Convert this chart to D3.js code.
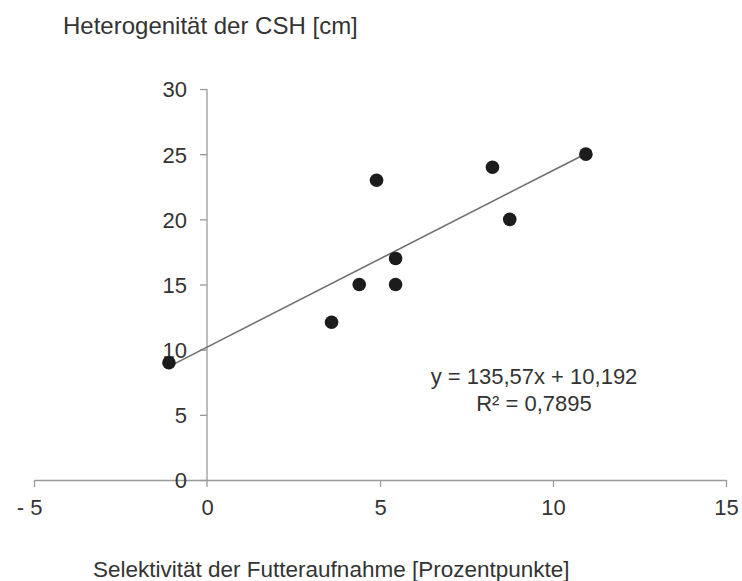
<!DOCTYPE html>
<html>
<head>
<meta charset="utf-8">
<script src="https://cdn.jsdelivr.net/npm/d3@7"></script>
<style>
  body { margin: 0; background: #fff; }
  text { font-family: "Liberation Sans", Arial, sans-serif; fill: #333; }
</style>
</head>
<body>
<svg id="chart" width="742" height="581"></svg>
<script>
// Selektivität (x) vs. Heterogenität der CSH (y)
const selektivitaet = [-1.1, 3.6, 4.4, 5.45, 5.45, 4.9, 8.25, 8.75, 10.95];
const heterogenitaet = [9, 12.1, 15, 15, 17, 23, 24, 20, 25];
const xTicks = [-5, 0, 5, 10, 15];
const yTicks = [0, 5, 10, 15, 20, 25, 30];
const trendSlope = 1.3557;   // 135,57 per fraction -> per Prozentpunkt
const trendIntercept = 10.192;
const eqLines = ["y = 135,57x + 10,192", "R² = 0,7895"];

const svg = d3.select("#chart");
const axisColor = "#9a9a9a";

const x = d3.scaleLinear().domain([-5, 15]).range([34, 726]);
const y = d3.scaleLinear().domain([0, 30]).range([480, 89]);

// x axis at y = 0
const gx = svg.append("g")
  .attr("transform", `translate(0,${y(0)})`)
  .call(d3.axisBottom(x).tickValues(xTicks).tickSize(7).tickSizeOuter(0)
    .tickFormat(d => d < 0 ? "- " + Math.abs(d) : d));
gx.select(".domain").attr("stroke", axisColor).attr("stroke-width", 1.3);
gx.selectAll(".tick line").attr("stroke", axisColor).attr("stroke-width", 1.3);
gx.selectAll(".tick").filter(d => d === 0).select("line").remove();
gx.selectAll(".tick text")
  .attr("y", 35).attr("dy", 0)
  .attr("fill", "#333")
  .style("font-size", "22px")
  .attr("text-anchor", d => d < 0 ? "end" : "middle")
  .attr("x", d => d < 0 ? 8 : 0);

// y axis at x = 0
const gy = svg.append("g")
  .attr("transform", `translate(${x(0)},0)`)
  .call(d3.axisLeft(y).tickValues(yTicks).tickSize(7).tickSizeOuter(0));
gy.select(".domain").attr("stroke", axisColor).attr("stroke-width", 1.3)
  .attr("d", `M0,${y(30)}V${y(0) + 7}`);
gy.selectAll(".tick line").attr("stroke", axisColor).attr("stroke-width", 1.3);
gy.selectAll(".tick text")
  .attr("x", -20)
  .attr("dy", "0.36em")
  .attr("fill", "#333")
  .style("font-size", "22px");

// trend line over the data range
const xExt = d3.extent(selektivitaet);
svg.append("line")
  .attr("x1", x(xExt[0])).attr("y1", y(trendSlope * xExt[0] + trendIntercept))
  .attr("x2", x(xExt[1])).attr("y2", y(trendSlope * xExt[1] + trendIntercept))
  .attr("stroke", "#707070")
  .attr("stroke-width", 1.6);

// points
svg.append("g")
  .selectAll("circle")
  .data(selektivitaet.map((v, i) => [v, heterogenitaet[i]]))
  .join("circle")
  .attr("cx", d => x(d[0]))
  .attr("cy", d => y(d[1]))
  .attr("r", 6.8)
  .attr("fill", "#1c1c1c");

// equation
svg.append("g")
  .selectAll("text")
  .data(eqLines)
  .join("text")
  .attr("x", 534)
  .attr("y", (d, i) => 384 + i * 27)
  .attr("text-anchor", "middle")
  .style("font-size", "22px")
  .text(d => d);

// axis titles
svg.append("text")
  .attr("x", 63).attr("y", 34)
  .style("font-size", "24px")
  .text("Heterogenität der CSH [cm]");

svg.append("text")
  .attr("x", 93).attr("y", 577)
  .style("font-size", "22.5px")
  .text("Selektivität der Futteraufnahme [Prozentpunkte]");
</script>
</body>
</html>
